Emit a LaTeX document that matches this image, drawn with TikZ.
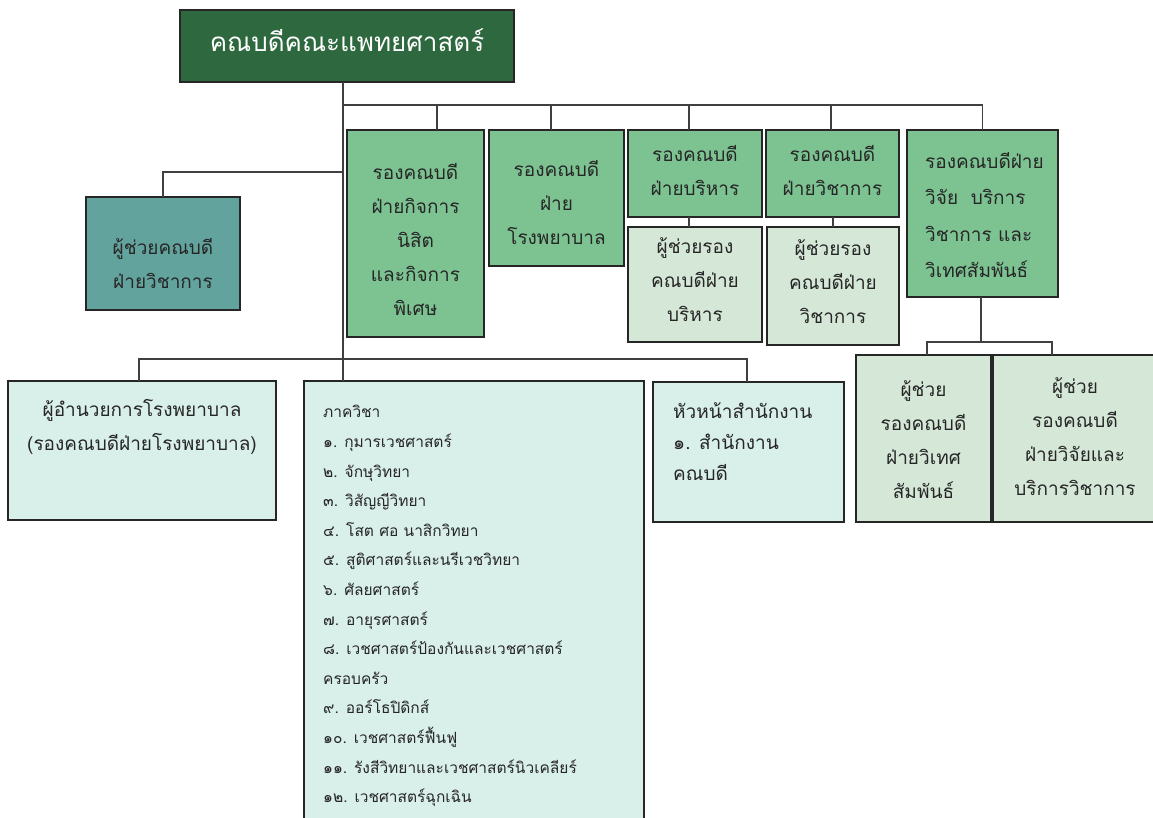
\documentclass[tikz,border=0pt]{standalone}
\usepackage{fontspec}
\newfontfamily\thai[Script=Thai]{Loma}
\definecolor{topgreen}{RGB}{46,104,62}
\definecolor{midgreen}{RGB}{125,195,146}
\definecolor{lightgreen}{RGB}{213,232,216}
\definecolor{aqua}{RGB}{217,239,233}
\definecolor{teal}{RGB}{99,163,157}
\definecolor{boxline}{RGB}{38,38,38}
\definecolor{connline}{RGB}{64,64,64}
\begin{document}
\begin{tikzpicture}[x=1pt,y=-1pt,
  box/.style={draw=boxline, line width=1.4pt, inner sep=0pt, outer sep=0pt, anchor=north west},
  txt/.style={inner sep=0pt, align=center, font=\thai\fontsize{19}{34}\selectfont, text=black!85},
  ltxt/.style={inner sep=0pt, align=left, anchor=west, font=\thai\fontsize{19}{34}\selectfont, text=black!85},
  conn/.style={draw=connline, line width=1.3pt}]
\clip (0,0) rectangle (1153,817);
\fill[white] (0,0) rectangle (1153,817);

% boxes
\node[box, fill=topgreen, minimum width=334pt, minimum height=72pt] (T) at (180,10) {};
\node[box, fill=midgreen, minimum width=137pt, minimum height=207pt] (A) at (347,130) {};
\node[box, fill=midgreen, minimum width=135pt, minimum height=136pt] (B) at (489,130) {};
\node[box, fill=midgreen, minimum width=134pt, minimum height=87pt] (C) at (628,130) {};
\node[box, fill=lightgreen, minimum width=134pt, minimum height=115pt] (C2) at (628,227) {};
\node[box, fill=midgreen, minimum width=133pt, minimum height=87pt] (D) at (766,130) {};
\node[box, fill=lightgreen, minimum width=132pt, minimum height=118pt] (D2) at (767,227) {};
\node[box, fill=midgreen, minimum width=151pt, minimum height=167pt] (E) at (907,130) {};
\node[box, fill=lightgreen, minimum width=135pt, minimum height=167pt] (F1) at (856,355) {};
\node[box, fill=lightgreen, minimum width=180pt, minimum height=167pt] (F2) at (993,355) {};
\node[box, fill=teal, minimum width=154pt, minimum height=113pt] (L) at (86,197) {};
\node[box, fill=aqua, minimum width=268pt, minimum height=139pt] (M) at (8,381) {};
\node[box, fill=aqua, minimum width=340pt, minimum height=460pt] (K) at (304,381) {};
\node[box, fill=aqua, minimum width=191pt, minimum height=140pt] (H) at (653,382) {};

% texts
\node[txt, text=white, font=\thai\fontsize{26}{34}\selectfont] (Tt) at ([yshift=6]T.center) {คณบดีคณะแพทยศาสตร์};
\node[txt] (At) at ([yshift=-6]A.center) {รองคณบดี\\ฝ่ายกิจการ\\นิสิต\\และกิจการ\\พิเศษ};
\node[txt] (Bt) at ([yshift=-4]B.center) {รองคณบดี\\ฝ่าย\\โรงพยาบาล};
\node[txt] (Ct) at ([yshift=3]C.center) {รองคณบดี\\ฝ่ายบริหาร};
\node[txt] (C2t) at ([yshift=5]C2.center) {ผู้ช่วยรอง\\คณบดีฝ่าย\\บริหาร};
\node[txt] (Dt) at ([yshift=3]D.center) {รองคณบดี\\ฝ่ายวิชาการ};
\node[txt] (D2t) at ([yshift=4]D2.center) {ผู้ช่วยรอง\\คณบดีฝ่าย\\วิชาการ};
\node[ltxt, font=\thai\fontsize{19}{36.5}\selectfont] (Et) at (925,215) {รองคณบดีฝ่าย\\วิจัย\ \ บริการ\\วิชาการ และ\\วิเทศสัมพันธ์};
\node[txt] (F1t) at ([yshift=-1]F1.center) {ผู้ช่วย\\รองคณบดี\\ฝ่ายวิเทศ\\สัมพันธ์};
\node[txt] (F2t) at (1075,437) {ผู้ช่วย\\รองคณบดี\\ฝ่ายวิจัยและ\\บริการวิชาการ};
\node[txt] (Lt) at ([yshift=-10]L.center) {ผู้ช่วยคณบดี\\ฝ่ายวิชาการ};
\node[txt] (Mt) at (142,426.5) {ผู้อำนวยการโรงพยาบาล\\(รองคณบดีฝ่ายโรงพยาบาล)};
\node[ltxt, font=\thai\fontsize{19}{31}\selectfont] (Ht) at (673,442) {หัวหน้าสำนักงาน\\๑. สำนักงาน\\คณบดี};
\node[ltxt, font=\thai\fontsize{15.5}{29.6}\selectfont] (Kt) at (323,606) {ภาควิชา\\๑. กุมารเวชศาสตร์\\๒. จักษุวิทยา\\๓. วิสัญญีวิทยา\\๔. โสต ศอ นาสิกวิทยา\\๕. สูติศาสตร์และนรีเวชวิทยา\\๖. ศัลยศาสตร์\\๗. อายุรศาสตร์\\๘. เวชศาสตร์ป้องกันและเวชศาสตร์\\ครอบครัว\\๙. ออร์โธปิดิกส์\\๑๐. เวชศาสตร์ฟื้นฟู\\๑๑. รังสีวิทยาและเวชศาสตร์นิวเคลียร์\\๑๒. เวชศาสตร์ฉุกเฉิน};

% connectors
\coordinate (trunk) at (343,82);
\coordinate (bus1) at (343,105);
\coordinate (lbus) at (343,172);
\coordinate (fbus) at (981,342);
\coordinate (bus2) at (343,359);
\path[conn] (T.south -| trunk) -- (K.north -| trunk);
\path[conn] (bus1) -- (E.north |- bus1) -- (E.north);
\path[conn] ([xshift=21.5]A.north) -- ([xshift=21.5]A.north |- bus1);
\path[conn] ([xshift=-5.5]B.north) -- ([xshift=-5.5]B.north |- bus1);
\path[conn] ([xshift=-6]C.north) -- ([xshift=-6]C.north |- bus1);
\path[conn] ([xshift=-1.5]D.north) -- ([xshift=-1.5]D.north |- bus1);
\path[conn] ([xshift=-6]C.south) -- ([xshift=-6]C2.north);
\path[conn] ([xshift=0.5]D.south) -- ([xshift=0.5]D.south |- D2.north);
\path[conn] (lbus) -| (L.north);
\path[conn] (E.south -| fbus) -- (fbus);
\path[conn] ([xshift=3.5]F1.north) |- (fbus) -| ([xshift=-31]F2.north);
\path[conn] ([xshift=-3]M.north) |- (bus2) -| ([xshift=-1.5]H.north);
\end{tikzpicture}
\end{document}
